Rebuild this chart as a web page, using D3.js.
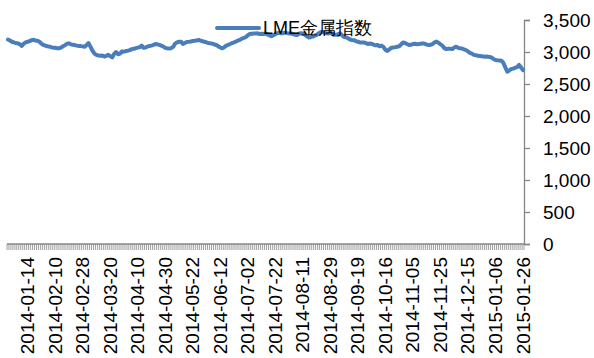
<!DOCTYPE html>
<html>
<head>
<meta charset="utf-8">
<script src="https://cdn.jsdelivr.net/npm/d3@7"></script>
<style>
  body { margin: 0; background: #fff; }
  text { font-family: "Liberation Sans", Arial, sans-serif; fill: #000; }
</style>
</head>
<body>
<svg id="chart" width="594" height="358"></svg>
<script>
// LME metal index, one value per trading day
var seriesName = "LME金属指数";
var values = [
  3195, 3180, 3160, 3150, 3140, 3135, 3120, 3095, 3130, 3150,
  3160, 3170, 3185, 3190, 3180, 3175, 3160, 3130, 3110, 3100,
  3090, 3085, 3075, 3068, 3065, 3060, 3057, 3070, 3090, 3105,
  3130, 3135, 3120, 3112, 3108, 3100, 3095, 3092, 3088, 3083,
  3110, 3140, 3080, 3020, 2975, 2955, 2945, 2940, 2945, 2930,
  2940, 2955, 2935, 2915, 2970, 3000, 2965, 2975, 3010, 3005,
  3015, 3020, 3030, 3045, 3050, 3060, 3068, 3075, 3100, 3065,
  3070, 3085, 3095, 3100, 3110, 3125, 3120, 3110, 3100, 3085,
  3065, 3058, 3055, 3060, 3080, 3130, 3150, 3160, 3162, 3125,
  3140, 3158, 3160, 3165, 3172, 3175, 3182, 3187, 3178, 3168,
  3160, 3150, 3140, 3135, 3130, 3118, 3110, 3090, 3070, 3057,
  3075, 3100, 3112, 3125, 3140, 3150, 3165, 3180, 3190, 3210,
  3222, 3232, 3262, 3280, 3285, 3290, 3288, 3292, 3280, 3285,
  3282, 3290, 3275, 3260, 3245, 3262, 3280, 3295, 3300, 3290,
  3298, 3302, 3295, 3290, 3292, 3280, 3270, 3265, 3285, 3292,
  3285, 3270, 3245, 3228, 3232, 3240, 3255, 3268, 3290, 3310,
  3315, 3300, 3292, 3290, 3295, 3288, 3270, 3268, 3280, 3292,
  3260, 3235, 3228, 3214, 3195, 3187, 3185, 3170, 3160, 3150,
  3148, 3150, 3138, 3126, 3132, 3128, 3115, 3105, 3110, 3090,
  3100, 3080, 3035, 3016, 3040, 3068, 3072, 3075, 3083, 3090,
  3120, 3148, 3140, 3125, 3110, 3112, 3125, 3130, 3122, 3125,
  3130, 3135, 3130, 3115, 3108, 3112, 3125, 3150, 3162, 3145,
  3120, 3100, 3060, 3045, 3052, 3050, 3045, 3070, 3083, 3065,
  3058, 3055, 3040, 3030, 3010, 2985, 2975, 2955, 2950, 2940,
  2938, 2935, 2930, 2925, 2928, 2922, 2915, 2890, 2875, 2870,
  2868, 2864, 2830, 2760, 2692, 2710, 2735, 2740, 2755, 2765,
  2797, 2760, 2715
];
// labelled categories: every 14th trading day
var tickLabels = [
  "2014-01-14", "2014-02-10", "2014-02-28", "2014-03-20", "2014-04-10",
  "2014-04-30", "2014-05-22", "2014-06-12", "2014-07-02", "2014-07-22",
  "2014-08-11", "2014-08-29", "2014-09-19", "2014-10-16", "2014-11-05",
  "2014-11-25", "2014-12-15", "2015-01-06", "2015-01-26"
];
var firstLabelIndex = 10, labelStep = 14;
var yTicks = [0, 500, 1000, 1500, 2000, 2500, 3000, 3500];

var svg = d3.select("#chart");
var plotLeft = 7, plotRight = 524, plotTop = 20, plotBottom = 244;

var x = d3.scaleBand().domain(d3.range(values.length)).range([plotLeft, plotRight]).padding(0);
var y = d3.scaleLinear().domain([0, 3500]).range([plotBottom, plotTop]);
var axisColor = "#868686";

// y axis on the right
var yAxis = svg.append("g").attr("transform", "translate(" + plotRight + ",0)")
  .call(d3.axisRight(y).tickValues(yTicks).tickSize(6).tickPadding(13)
    .tickFormat(d3.format(",")));
yAxis.select(".domain").attr("stroke", axisColor).attr("stroke-width", 1.3);
yAxis.selectAll(".tick line").attr("stroke", axisColor).attr("stroke-width", 1.3);
yAxis.selectAll(".tick text").style("font-size", "19px").attr("fill", "#000");

// x axis: a tick at every category boundary
var xg = svg.append("g");
xg.append("line").attr("x1", plotLeft).attr("x2", plotRight)
  .attr("y1", plotBottom).attr("y2", plotBottom)
  .attr("stroke", axisColor).attr("stroke-width", 1.3);
var bounds = d3.range(values.length + 1);
xg.selectAll("line.t").data(bounds).enter().append("line").attr("class", "t")
  .attr("x1", function(d) { return plotLeft + d * x.bandwidth(); })
  .attr("x2", function(d) { return plotLeft + d * x.bandwidth(); })
  .attr("y1", plotBottom).attr("y2", plotBottom + 6)
  .attr("stroke", axisColor).attr("stroke-width", 0.8);

xg.selectAll("text").data(tickLabels).enter().append("text")
  .attr("transform", function(d, i) {
    var cx = x(firstLabelIndex + i * labelStep) + x.bandwidth() / 2;
    return "translate(" + cx + "," + (plotBottom + 13) + ") rotate(-90)";
  })
  .attr("text-anchor", "end")
  .attr("dominant-baseline", "central")
  .style("font-size", "19px")
  .text(function(d) { return d; });

// the series line
var line = d3.line()
  .x(function(d, i) { return x(i) + x.bandwidth() / 2; })
  .y(function(d) { return y(d); });
svg.append("path").datum(values)
  .attr("d", line)
  .attr("fill", "none")
  .attr("stroke", "#4A7EBB")
  .attr("stroke-width", 4)
  .attr("stroke-linejoin", "round")
  .attr("stroke-linecap", "round");

// legend
var lg = svg.append("g").attr("transform", "translate(217,28)");
lg.append("line").attr("x1", 0).attr("x2", 42).attr("y1", 0).attr("y2", 0)
  .attr("stroke", "#4A7EBB").attr("stroke-width", 4).attr("stroke-linecap", "round");
lg.append("text").attr("x", 46).attr("y", 0).attr("dominant-baseline", "central")
  .style("font-size", "18px").text(seriesName);
</script>
</body>
</html>
